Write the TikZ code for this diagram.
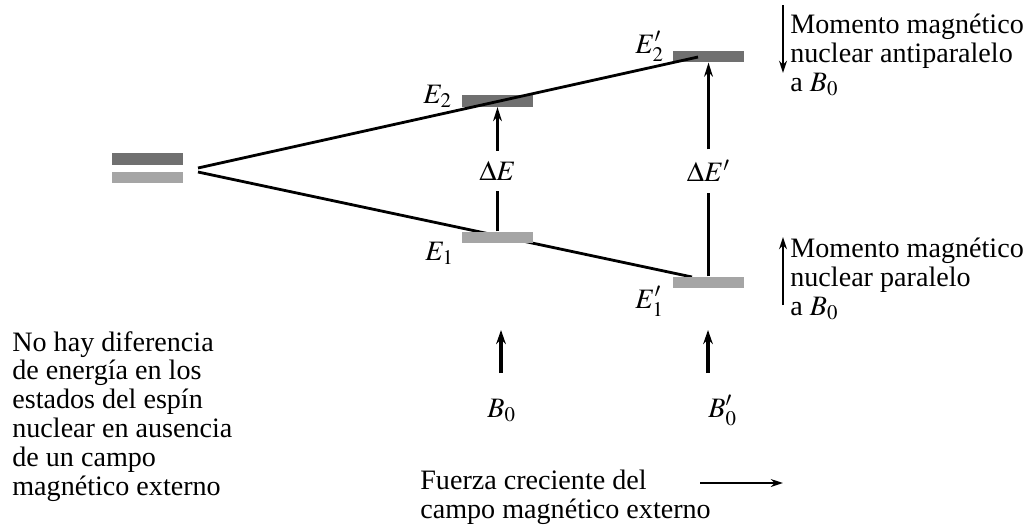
\documentclass[tikz,border=0pt]{standalone}
\usepackage{mathptmx}
\usepackage{fontspec}
\setmainfont{Liberation Serif}
\usetikzlibrary{arrows.meta,positioning}
\definecolor{darklevel}{RGB}{112,112,112}
\definecolor{lightlevel}{RGB}{165,165,165}

\begin{document}
\begin{tikzpicture}[x=0.02cm, y=-0.02cm,
  every node/.style={font=\fontsize{16}{16.4}\selectfont},
  levelbar/.style={rectangle, inner sep=0, minimum width=1.42cm, minimum height=0.23cm, fill=#1},
  mlabel/.style={anchor=base west, inner sep=0},
  notetext/.style={anchor=north west, align=left, inner sep=0},
  gaplabel/.style={inner xsep=0, inner ysep=6pt},
  split/.style={line width=1.6pt},
  rise/.style={line width=1.4pt, -{Stealth[length=8pt,width=5pt]}},
  field/.style={line width=1.8pt, -{Stealth[length=8pt,width=5.5pt]}},
  pointer/.style={line width=1.1pt, -{Stealth[length=7pt,width=4.5pt]}}
]
\fill[white] (0,0) rectangle (1034,528);
\useasboundingbox (0,0) rectangle (1034,528);

% free ends of the splitting lines
\coordinate (forkup) at (198,168);
\coordinate (forklow) at (198,172);
\coordinate (upend) at (698,57);
\coordinate (lowend) at (692,277);

\draw[split] (forklow) -- (lowend);

% energy levels
\node[levelbar=darklevel] (zeroup) at (147.5,159) {};
\node[levelbar=lightlevel] (zerolow) at (147.5,177.5) {};
\node[levelbar=darklevel] (e2) at (497.5,101) {};
\node[levelbar=lightlevel] (e1) at (497.5,237.5) {};
\node[levelbar=darklevel] (e2p) at (708.5,56.5) {};
\node[levelbar=lightlevel] (e1p) at (708.5,282.5) {};

\draw[split] (forkup) -- (upend);

\node[mlabel] (lE2) at (423,103) {$E_2$};
\node[mlabel] (lE1) at (425,260) {$E_1$};
\node[mlabel] (lE2p) at (635,53) {$E'_2$};
\node[mlabel] (lE1p) at (635,308) {$E'_1$};

% transitions
\node[gaplabel] (dE) at (497.5,171) {$\Delta E$};
\node[gaplabel] (dEp) at (708.5,171) {$\Delta E'$};
\draw[line width=1.4pt] (e1.north) -- (dE.south);
\draw[rise] (dE.north) -- (e2.south);
\draw[line width=1.4pt] (e1p.north) -- (dEp.south);
\draw[rise] (dEp.north) -- (e2p.south);

% applied field
\coordinate (b0tail) at (501,373);
\coordinate (b0tip) at (501,330);
\coordinate (b0ptail) at (708,373);
\coordinate (b0ptip) at (708,330);
\draw[field] (b0tail) -- (b0tip);
\draw[field] (b0ptail) -- (b0ptip);
\node[mlabel] (B0) at (487,417) {$B_0$};
\node[mlabel] (B0p) at (708,417) {$B'_0$};

% side notes
\coordinate (antitop) at (783,5);
\coordinate (antibot) at (783,73);
\coordinate (parabot) at (783,305);
\coordinate (paratop) at (783,237);
\draw[pointer] (antitop) -- (antibot);
\draw[pointer] (parabot) -- (paratop);
\node[notetext] (anti) at (790,14) {Momento magnético\\nuclear antiparalelo\\a $B_0$};
\node[notetext] (para) at (790,238) {Momento magnético\\nuclear paralelo\\a $B_0$};

\node[notetext] (nodiff) at (12,331) {No hay diferencia\\de energía en los\\estados del espín\\nuclear en ausencia\\de un campo\\magnético externo};

\node[notetext] (fuerza) at (420,470) {Fuerza creciente del\\campo magnético externo};
\coordinate (fstart) at (700,483);
\coordinate (fend) at (783,483);
\draw[pointer] (fstart) -- (fend);
\end{tikzpicture}
\end{document}
